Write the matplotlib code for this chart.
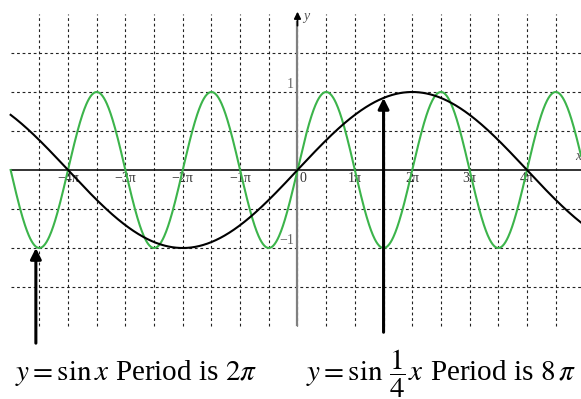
#!/usr/bin/env python3
"""Compare y = sin x with y = sin(x/4) on a dotted grid."""

import matplotlib

matplotlib.use("Agg")
import matplotlib.pyplot as plt
import numpy as np

# x is measured in multiples of pi
x_start, x_end = -5.0, 5.0
freqs = [1.0, 0.25]
curve_colors = ["#3cb44b", "black"]

x_ticks = [-4, -3, -2, -1, 1, 2, 3, 4]
x_tick_labels = ["\u22124\u03c0", "\u22123\u03c0", "\u22122\u03c0", "\u22121\u03c0",
                 "1\u03c0", "2\u03c0", "3\u03c0", "4\u03c0"]
y_ticks = [1, -1]
y_tick_labels = ["1", "\u22121"]

v_grid = np.arange(-4.5, 4.51, 0.5)
h_grid = [-1.5, -1.0, -0.5, 0.5, 1.0, 1.5]

# arrows: (x, tip y, tail y)
arrows = [(-4.56, -1.0, -2.22), (1.5, np.sin(1.5 * np.pi / 4), -2.08)]

plt.rcParams["font.family"] = ["Liberation Serif", "DejaVu Serif"]
plt.rcParams["mathtext.fontset"] = "stix"

W, H = 581, 399
fig = plt.figure(figsize=(W / 100, H / 100), dpi=100)
ax = fig.add_axes([0, 0, 1, 1])
ax.set_xlim(-297.5 / 57.375, (W - 297.5) / 57.375)
ax.set_ylim((170 - H) / 78.0, 170 / 78.0)
ax.axis("off")

grid_kw = dict(colors="#222222", linestyles=(0, (2.5, 2.5)), linewidth=0.8, zorder=1)
ax.vlines(v_grid, -2.0, 2.0, **grid_kw)
ax.hlines(h_grid, x_start, 6, **grid_kw)

# axes
ax.plot([x_start, 6], [0, 0], color="#111111", lw=1.2, zorder=2)
ax.annotate("", xy=(5.0, 0), xytext=(4.8, 0),
            arrowprops=dict(arrowstyle="-|>", color="black", lw=1.2,
                            mutation_scale=10, shrinkA=0, shrinkB=0), zorder=3)
ax.plot([0, 0], [-1.99, 1.9], color="#808080", lw=1.6, zorder=2)
ax.annotate("", xy=(0, 2.03), xytext=(0, 1.85),
            arrowprops=dict(arrowstyle="-|>", color="black", lw=1.2,
                            mutation_scale=10, shrinkA=0, shrinkB=0), zorder=3)
ax.text(0.1, 1.97, "y", style="italic", fontsize=10, color="#555555",
        ha="left", va="center")
ax.text(4.94, 0.17, "x", style="italic", fontsize=10, color="#555555",
        ha="right", va="center")

for xt, lab in zip(x_ticks, x_tick_labels):
    ax.text(xt, -0.025, lab, fontsize=10, color="#333333", ha="center", va="top")
ax.text(0.04, -0.025, "0", fontsize=10, color="#333333", ha="left", va="top")
for yt, lab in zip(y_ticks, y_tick_labels):
    ax.text(-0.06, yt + 0.1, lab, fontsize=10, color="#666666", ha="right", va="center")

x = np.linspace(x_start, x_end, 1200)
for f, c in zip(freqs, curve_colors):
    ax.plot(x, np.sin(f * np.pi * x), color=c, lw=1.5, zorder=4)

for xa, tip, tail in arrows:
    ax.annotate("", xy=(xa, tip), xytext=(xa, tail),
                arrowprops=dict(arrowstyle="-|>", color="black", lw=2.2,
                                mutation_scale=16, shrinkA=0, shrinkB=0), zorder=5)


def cap(px, s, ha="left"):
    fig.text(px / W, 1 - 380 / H, s, fontsize=21, ha=ha, va="baseline")


# left caption
cap(15, r"$y=\sin x$")
cap(115, r"Period is $2\pi$")
# right caption
cap(306, r"$y=\sin$")
cap(397, r"$\dfrac{1}{4}$", ha="center")
cap(408, r"$x$")
cap(430, r"Period is $8\,\pi$")

fig.savefig("out.png", dpi=100)
